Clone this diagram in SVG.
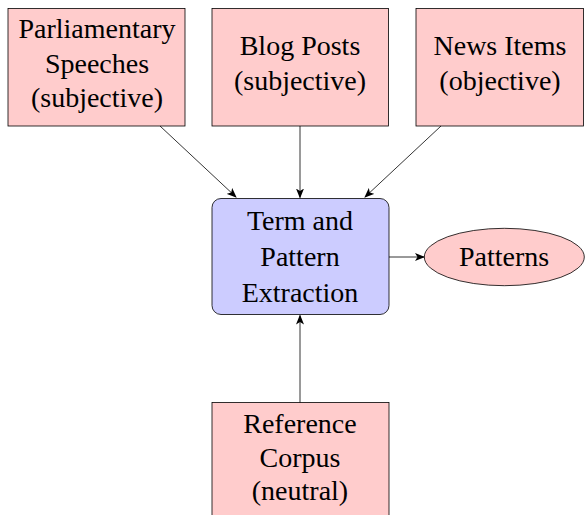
<svg xmlns="http://www.w3.org/2000/svg" width="587" height="515" viewBox="0 0 587 515">
<style>
.src{fill:#ffcccc;stroke:#000;stroke-width:0.8}
.proc{fill:#ccccff;stroke:#000;stroke-width:0.8}
.conn{stroke:#000;stroke-width:0.8;fill:none;marker-end:url(#ah)}
</style>
<defs>
<marker id="ah" viewBox="0 0 10 8" refX="9" refY="4" markerWidth="10" markerHeight="8" markerUnits="userSpaceOnUse" orient="auto">
<path d="M0,0 L10,4 L0,8 L2.5,4 Z" fill="#000"/>
</marker>
</defs>
<rect width="587" height="515" fill="#fff"/>
<g id="parl">
<rect class="src" x="8" y="8.5" width="177" height="117.5"/>
<text x="97" y="38" font-family="Times New Roman, Liberation Serif, serif" font-size="28" text-anchor="middle">Parliamentary</text>
<text x="97" y="73" font-family="Times New Roman, Liberation Serif, serif" font-size="28" text-anchor="middle">Speeches</text>
<text x="97" y="107" font-family="Times New Roman, Liberation Serif, serif" font-size="28" text-anchor="middle">(subjective)</text>
</g>
<g id="blog">
<rect class="src" x="212" y="8.5" width="176.5" height="117.5"/>
<text x="300" y="55" font-family="Times New Roman, Liberation Serif, serif" font-size="28" text-anchor="middle">Blog Posts</text>
<text x="300" y="90" font-family="Times New Roman, Liberation Serif, serif" font-size="28" text-anchor="middle">(subjective)</text>
</g>
<g id="news">
<rect class="src" x="416" y="8.5" width="167.5" height="117.5"/>
<text x="500" y="55" font-family="Times New Roman, Liberation Serif, serif" font-size="28" text-anchor="middle">News Items</text>
<text x="500" y="90" font-family="Times New Roman, Liberation Serif, serif" font-size="28" text-anchor="middle">(objective)</text>
</g>
<g id="extract">
<rect class="proc" x="212" y="198.5" width="177" height="116" rx="9" ry="9"/>
<text x="300" y="230" font-family="Times New Roman, Liberation Serif, serif" font-size="28" text-anchor="middle">Term and</text>
<text x="300" y="266" font-family="Times New Roman, Liberation Serif, serif" font-size="28" text-anchor="middle">Pattern</text>
<text x="300" y="301.5" font-family="Times New Roman, Liberation Serif, serif" font-size="28" text-anchor="middle">Extraction</text>
</g>
<g id="patterns">
<ellipse class="src" cx="504.3" cy="257" rx="80" ry="28.7"/>
<text x="504" y="266" font-family="Times New Roman, Liberation Serif, serif" font-size="28" text-anchor="middle">Patterns</text>
</g>
<g id="ref">
<rect class="src" x="212" y="402.5" width="177" height="125"/>
<text x="300" y="433" font-family="Times New Roman, Liberation Serif, serif" font-size="28" text-anchor="middle">Reference</text>
<text x="300" y="466.5" font-family="Times New Roman, Liberation Serif, serif" font-size="28" text-anchor="middle">Corpus</text>
<text x="300" y="500" font-family="Times New Roman, Liberation Serif, serif" font-size="28" text-anchor="middle">(neutral)</text>
</g>
<g id="connectors">
<line class="conn" x1="160" y1="126" x2="236" y2="197"/>
<line class="conn" x1="300" y1="126" x2="300" y2="197.5"/>
<line class="conn" x1="441" y1="126" x2="365" y2="197"/>
<line class="conn" x1="389" y1="257" x2="424" y2="257"/>
<line class="conn" x1="300" y1="402.5" x2="300" y2="315.5"/>
</g>
</svg>
